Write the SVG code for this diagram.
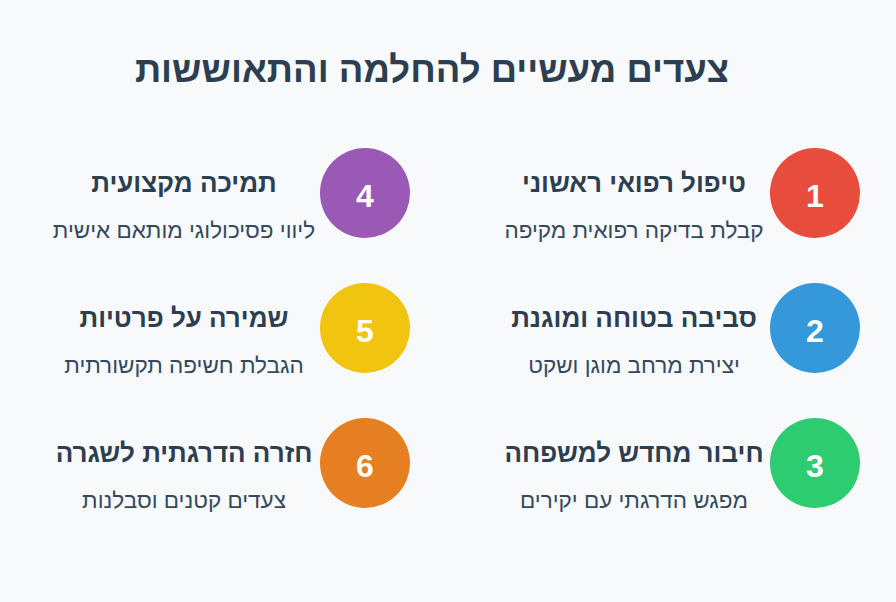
<svg xmlns="http://www.w3.org/2000/svg" width="896" height="602" viewBox="0 0 896 602">
<style>
text{font-family:"Liberation Sans","DejaVu Sans",sans-serif;}
.t{font-size:36.5px;font-weight:700;fill:#2c3e50;text-anchor:middle;}
.h{font-size:26px;font-weight:700;fill:#2c3e50;text-anchor:middle;}
.s{font-size:22.5px;fill:#34495e;text-anchor:middle;}
.n{font-size:32px;font-weight:700;fill:#ffffff;text-anchor:middle;}
</style>
<rect width="896" height="602" fill="#f8f9fa"/>
<text class="t" x="432" y="82" direction="rtl">צעדים מעשיים להחלמה והתאוששות</text>
<g id="step1"><circle cx="815" cy="193" r="45" fill="#e74c3c"/><text class="n" x="815" y="207">1</text><text class="h" x="634" y="192" direction="rtl">טיפול רפואי ראשוני</text><text class="s" x="634" y="238" direction="rtl">קבלת בדיקה רפואית מקיפה</text></g>
<g id="step2"><circle cx="815" cy="328" r="45" fill="#3498db"/><text class="n" x="815" y="342">2</text><text class="h" x="634" y="327" direction="rtl">סביבה בטוחה ומוגנת</text><text class="s" x="634" y="373" direction="rtl">יצירת מרחב מוגן ושקט</text></g>
<g id="step3"><circle cx="815" cy="463" r="45" fill="#2ecc71"/><text class="n" x="815" y="477">3</text><text class="h" x="634" y="462" direction="rtl">חיבור מחדש למשפחה</text><text class="s" x="634" y="508" direction="rtl">מפגש הדרגתי עם יקירים</text></g>
<g id="step4"><circle cx="365" cy="193" r="45" fill="#9b59b6"/><text class="n" x="365" y="207">4</text><text class="h" x="184" y="192" direction="rtl">תמיכה מקצועית</text><text class="s" x="184" y="238" direction="rtl">ליווי פסיכולוגי מותאם אישית</text></g>
<g id="step5"><circle cx="365" cy="328" r="45" fill="#f1c40f"/><text class="n" x="365" y="342">5</text><text class="h" x="184" y="327" direction="rtl">שמירה על פרטיות</text><text class="s" x="184" y="373" direction="rtl">הגבלת חשיפה תקשורתית</text></g>
<g id="step6"><circle cx="365" cy="463" r="45" fill="#e67e22"/><text class="n" x="365" y="477">6</text><text class="h" x="184" y="462" direction="rtl">חזרה הדרגתית לשגרה</text><text class="s" x="184" y="508" direction="rtl">צעדים קטנים וסבלנות</text></g>
<g id="connectors"></g>
</svg>
